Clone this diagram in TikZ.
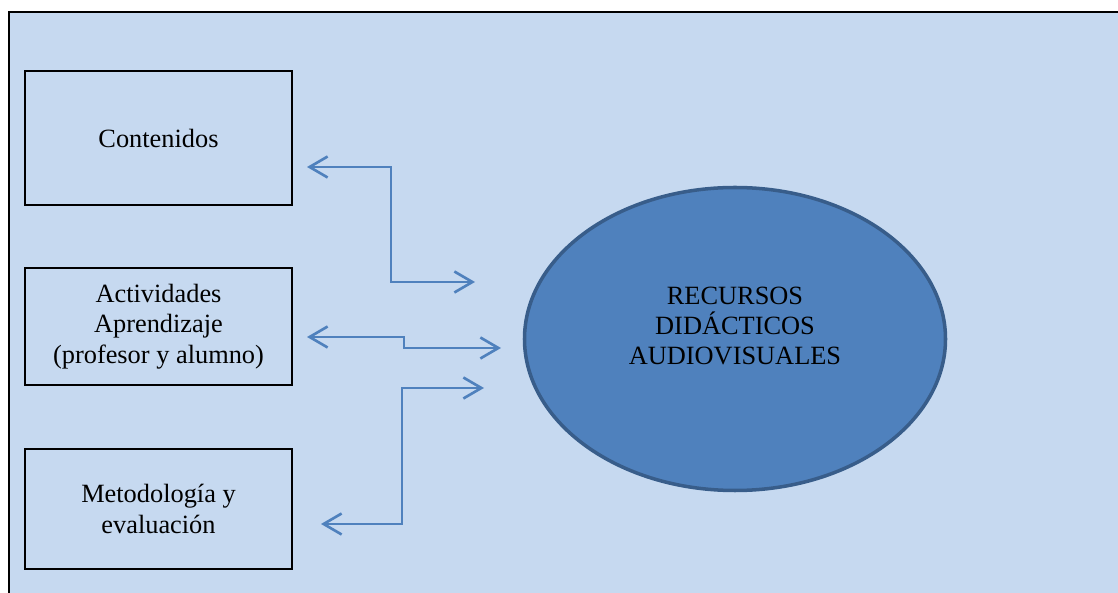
\documentclass[tikz,border=0pt]{standalone}
\usepackage{fontspec}
\setmainfont{Liberation Serif}
\usepackage{tikz}
\usetikzlibrary {arrows.meta}
\usetikzlibrary {shapes.geometric}

\definecolor{fondo}{RGB}{198,217,240}
\definecolor{azul}{RGB}{79,129,189}
\definecolor{azuloscuro}{RGB}{56,93,138}

\begin{document}
\begin{tikzpicture}[x=0.2mm, y=-0.2mm,
        caja/.style={draw=black, line width=0.8pt, minimum width=53.4mm, align=center,
          font=\fontsize{15pt}{17.3pt}\selectfont},
        enlace/.style={draw=azul, line width=1.5pt,
          {Straight Barb[length=3.6mm,width=4.2mm]}-{Straight Barb[length=3.6mm,width=4.2mm]}}]
        \useasboundingbox (0,0) rectangle (1118,593);

        % fondo
        \draw[fill=fondo, line width=0.8pt] (9,12) rectangle (1140,620);

        % cajas
        \node[caja, minimum height=26.8mm] (cont) at (158.5,138) {Contenidos};
        \node[caja, minimum height=23.4mm] (activ) at (158.5,326.5) {Actividades\\Aprendizaje\\(profesor y alumno)};
        \node[caja, minimum height=24mm] (metod) at (158.5,509) {Metodología y\\evaluación};

        % elipse
        \node[ellipse, draw=azuloscuro, fill=azul, line width=2pt, inner sep=0pt,
          minimum width=84.2mm, minimum height=60.6mm] (recursos) at (735,339) {};
        \node[align=center, font=\fontsize{15pt}{17pt}\selectfont] (recursostxt) at (735,326)
          {RECURSOS\\DIDÁCTICOS\\AUDIOVISUALES};

        % extremos de las flechas
        \coordinate (c1) at (307,167);
        \coordinate (c2) at (475,282);
        \coordinate (a1) at (307,337);
        \coordinate (a2) at (501,348);
        \coordinate (m1) at (321,524);
        \coordinate (m2) at (484,388);

        % flechas
        \draw[enlace] (c1) -- ++(84,0) |- (c2);
        \draw[enlace] (a1) -- ++(97,0) |- (a2);
        \draw[enlace] (m1) -- ++(81,0) |- (m2);
      \end{tikzpicture}
\end{document}
